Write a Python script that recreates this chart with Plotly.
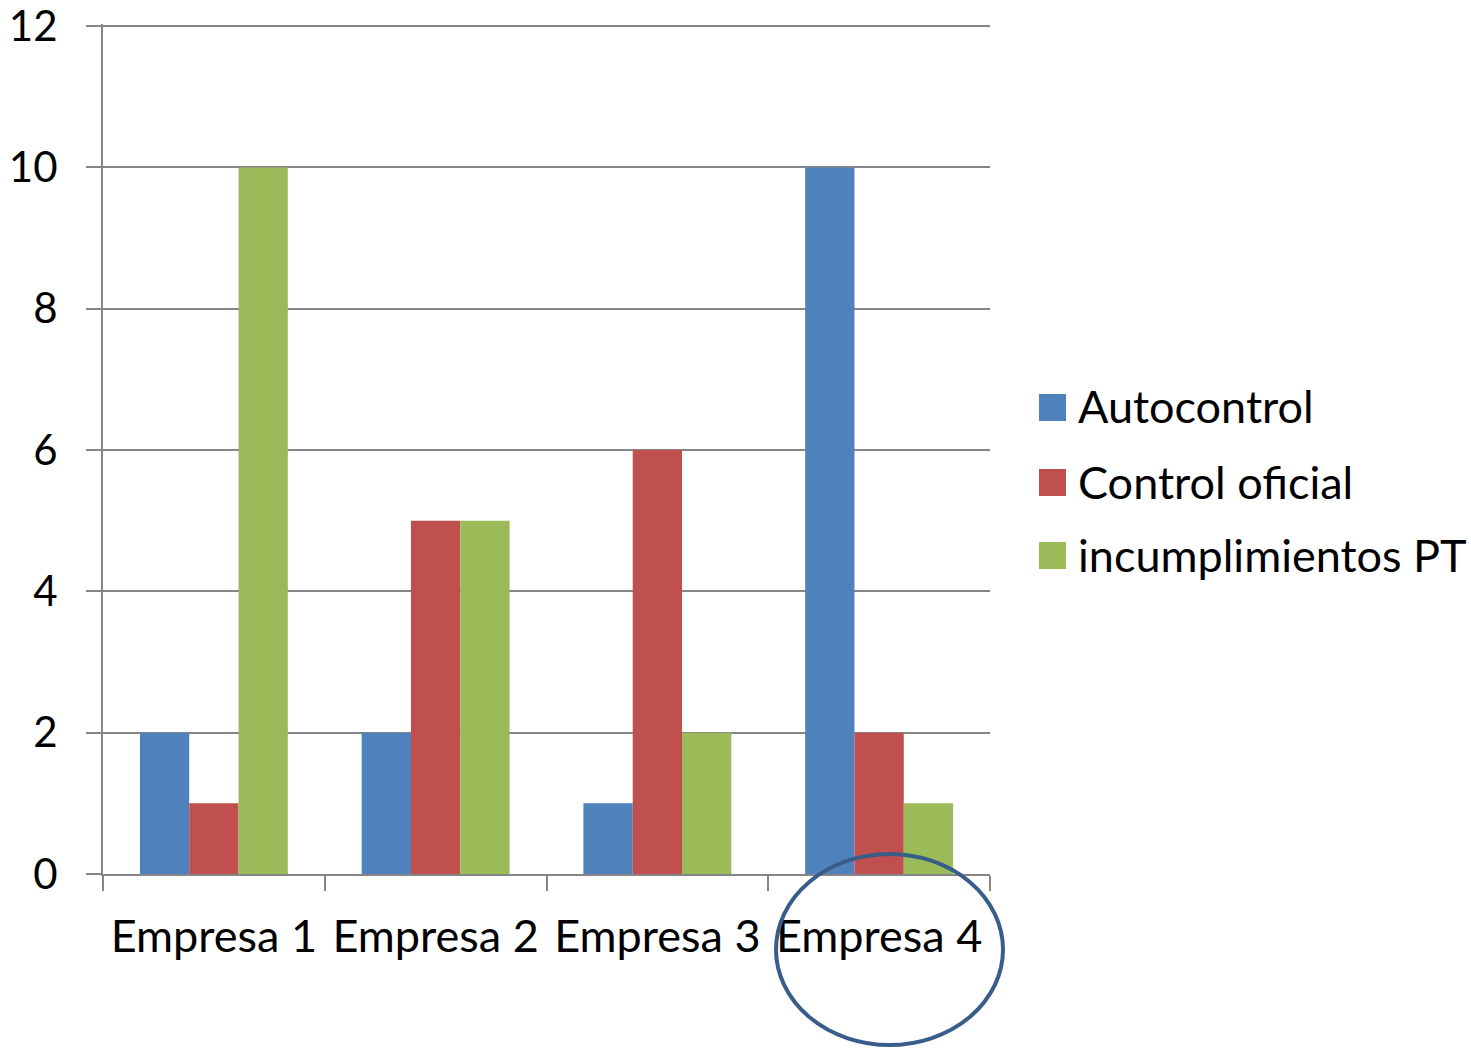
import plotly.graph_objects as go

categories = ["Empresa 1", "Empresa 2", "Empresa 3", "Empresa 4"]
series_names = ["Autocontrol", "Control oficial", "incumplimientos PT"]
autocontrol = [2, 2, 1, 10]
control_oficial = [1, 5, 6, 2]
incumplimientos_pt = [10, 5, 2, 1]
colors = ["#4F81BD", "#C0504D", "#9BBB59"]
y_ticks = [0, 2, 4, 6, 8, 10, 12]

W, H = 1471, 1048
L, R, T, B = 103, 990, 24, 874
Y_MAX = 12.03
FONT = "Lato"
FS = 45
FS_Y = 42

fig = go.Figure()
for name, vals, col in zip(series_names, [autocontrol, control_oficial, incumplimientos_pt], colors):
    fig.add_trace(go.Bar(x=categories, y=vals, name=name, marker=dict(color=col, line=dict(width=0))))

def px(x):
    return (x - L) / (R - L)

def py(y):
    return (B - y) / (B - T)

shapes = []
annotations = []
# custom legend
legend_centers = [407.5, 482.5, 555.5]
for name, col, cy in zip(series_names, colors, legend_centers):
    shapes.append(dict(type="rect", xref="paper", yref="paper",
                       x0=px(1039), x1=px(1066), y0=py(cy + 13.5), y1=py(cy - 13.5),
                       fillcolor=col, line=dict(width=0)))
    annotations.append(dict(xref="paper", yref="paper", x=px(1076), y=py(cy - 1),
                            xanchor="left", yanchor="middle", text=name, showarrow=False,
                            font=dict(family=FONT, size=FS, color="black")))
# ellipse around Empresa 4
shapes.append(dict(type="circle", xref="paper", yref="paper",
                   x0=px(776), x1=px(1003), y0=py(1045), y1=py(854),
                   line=dict(color="#385D8A", width=4), fillcolor="rgba(0,0,0,0)"))

fig.update_layout(
    width=W, height=H,
    margin=dict(l=L, r=W - R, t=T, b=H - B, autoexpand=False),
    paper_bgcolor="white", plot_bgcolor="white",
    showlegend=False,
    barmode="group", bargap=0.333, bargroupgap=0,
    font=dict(family=FONT, size=FS, color="black"),
    shapes=shapes, annotations=annotations,
)
fig.update_xaxes(
    type="category", showgrid=False, showline=True, linecolor="#868686", linewidth=2,
    ticks="outside", tickson="boundaries", ticklen=15, tickcolor="#868686", tickwidth=2,
    tickfont=dict(family=FONT, size=FS, color="black"), ticklabelstandoff=22,
    automargin=False, ticklabeloverflow="allow",
)
fig.update_yaxes(
    range=[0, Y_MAX], tickvals=y_ticks, showgrid=True, gridcolor="#868686", gridwidth=2,
    showline=True, linecolor="#868686", linewidth=2, zeroline=False,
    ticks="outside", ticklen=15, tickcolor="#868686", tickwidth=2,
    tickfont=dict(family=FONT, size=FS_Y, color="black"), ticklabelstandoff=20,
    automargin=False, ticklabeloverflow="allow",
)

fig.write_html("out.html")
